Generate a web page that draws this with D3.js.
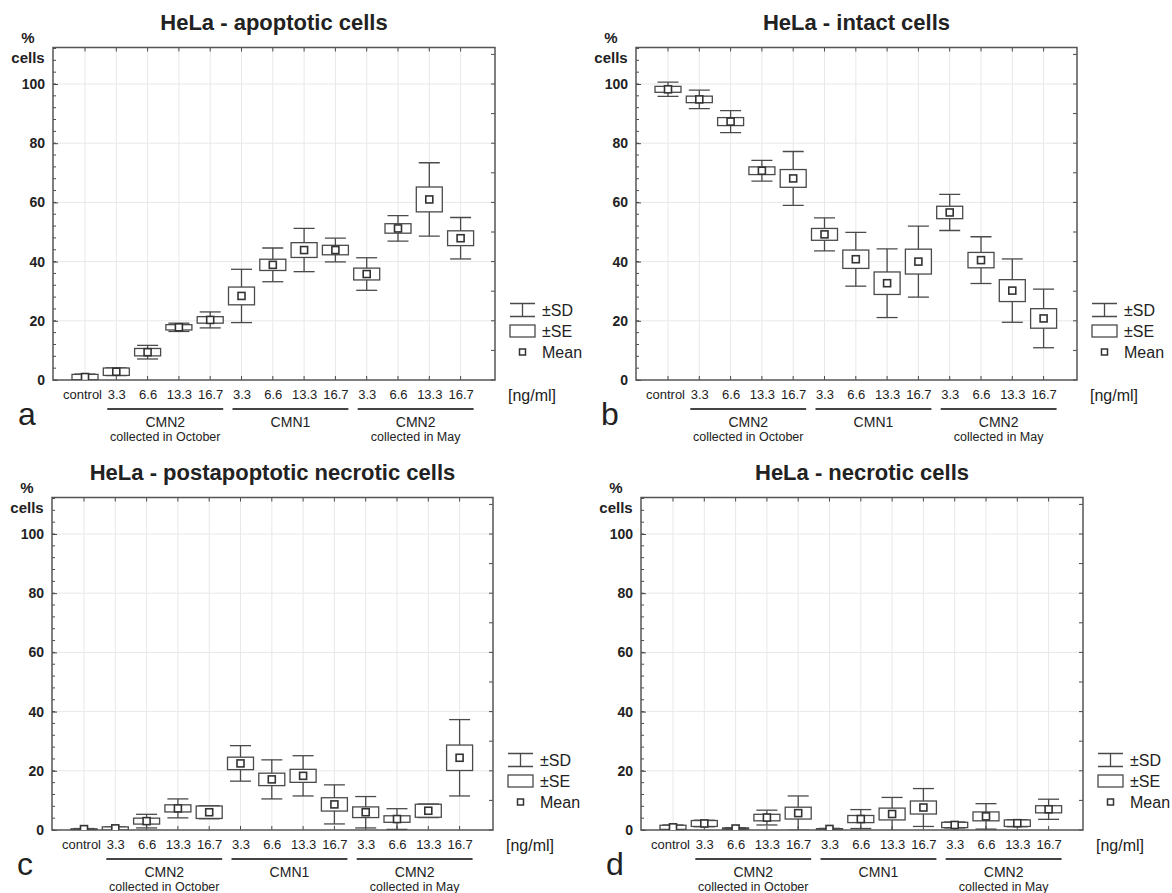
<!DOCTYPE html>
<html>
<head>
<meta charset="utf-8">
<script src="https://cdnjs.cloudflare.com/ajax/libs/d3/7.8.5/d3.min.js"></script>
<style>
  body { margin: 0; background: #fff; }
  svg { display: block; font-family: 'Liberation Sans', Arial, sans-serif; }
</style>
</head>
<body>
<script>
// categories along the x axis (concentration, ng/ml)
var categories = ['control', '3.3', '6.6', '13.3', '16.7', '3.3', '6.6', '13.3', '16.7', '3.3', '6.6', '13.3', '16.7'];
var groupNames = ['CMN2', 'CMN1', 'CMN2'];
var groupNotes = ['collected in October', '', 'collected in May'];
var groupFirst = [1, 5, 9];
var groupLast = [4, 8, 12];
var yTicks = [0, 20, 40, 60, 80, 100];

// a - apoptotic
var apoptoticMean = [1.0, 2.8, 9.4, 17.8, 20.3, 28.4, 38.9, 43.9, 43.9, 35.8, 51.2, 61.0, 47.9];
var apoptoticSE = [0.9, 1.25, 1.25, 0.9, 1.1, 3.0, 1.9, 2.5, 1.6, 2.0, 1.6, 4.2, 2.5];
var apoptoticSD = [1.0, 1.3, 2.3, 1.4, 2.7, 9.0, 5.7, 7.3, 4.0, 5.5, 4.3, 12.4, 7.0];

// b - intact
var intactMean = [98.2, 94.8, 87.3, 70.7, 68.1, 49.2, 40.8, 32.7, 40.0, 56.6, 40.5, 30.2, 20.8];
var intactSE = [1.0, 1.1, 1.35, 1.3, 3.0, 2.0, 3.1, 3.8, 4.2, 2.1, 2.6, 3.7, 3.3];
var intactSD = [2.4, 3.1, 3.7, 3.5, 9.1, 5.6, 9.1, 11.6, 12.0, 6.1, 7.9, 10.7, 9.9];

// c - postapoptotic necrotic
var postMean = [0.3, 0.55, 3.0, 7.3, 6.0, 22.5, 17.1, 18.3, 8.65, 6.0, 3.7, 6.5, 24.4];
var postSE = [0.1, 0.5, 1.0, 1.2, 2.1, 2.1, 2.1, 2.2, 2.25, 1.8, 1.1, 2.2, 4.3];
var postSD = [0.2, 0.5, 2.3, 3.2, 2.2, 6.0, 6.6, 6.8, 6.6, 5.3, 3.5, 2.3, 12.9];

// d - necrotic
var necroticMean = [0.9, 2.2, 0.5, 4.2, 5.7, 0.35, 3.7, 5.4, 7.6, 1.7, 4.6, 2.3, 7.0];
var necroticSE = [0.7, 1.0, 0.2, 1.1, 2.0, 0.1, 1.2, 2.0, 2.2, 0.9, 1.5, 1.1, 1.2];
var necroticSD = [0.8, 1.1, 0.3, 2.5, 5.8, 0.2, 3.2, 5.6, 6.4, 1.0, 4.3, 1.2, 3.4];

var panels = [
  {letter: 'a', title: 'HeLa - apoptotic cells', mean: apoptoticMean, se: apoptoticSE, sd: apoptoticSD, left: 53, bottom: 380, width: 442},
  {letter: 'b', title: 'HeLa - intact cells', mean: intactMean, se: intactSE, sd: intactSD, left: 636, bottom: 380, width: 441},
  {letter: 'c', title: 'HeLa - postapoptotic necrotic cells', mean: postMean, se: postSE, sd: postSD, left: 52, bottom: 830, width: 441},
  {letter: 'd', title: 'HeLa - necrotic cells', mean: necroticMean, se: necroticSE, sd: necroticSD, left: 641, bottom: 830, width: 442}
];

var plotHeight = 332.5;
var ink = '#222';
var lineColor = '#4a4a4a';
var gridColor = '#e8e8e8';

var svg = d3.select('body').append('svg')
    .attr('width', 1172)
    .attr('height', 893);

svg.append('rect').attr('width', 1172).attr('height', 893).attr('fill', '#fff');

function drawPanel(p, k) {
  var g = svg.append('g')
      .attr('transform', 'translate(' + p.left + ',' + (p.bottom - plotHeight) + ')');

  var y = d3.scaleLinear().domain([0, plotHeight / 2.96]).range([plotHeight, 0]);
  var x = d3.scalePoint().domain(d3.range(categories.length)).range([32, 32 + 12 * 31.3]);

  // grid
  g.append('g').selectAll('line').data(yTicks.slice(1)).join('line')
      .attr('x1', 0).attr('x2', p.width)
      .attr('y1', function (d) { return y(d); }).attr('y2', function (d) { return y(d); })
      .attr('stroke', gridColor);
  g.append('g').selectAll('line').data(d3.range(categories.length)).join('line')
      .attr('x1', function (d) { return x(d); }).attr('x2', function (d) { return x(d); })
      .attr('y1', 0).attr('y2', plotHeight)
      .attr('stroke', gridColor);

  // minor ticks
  g.append('g').selectAll('line').data(d3.range(0, 113, 4)).join('line')
      .attr('x1', 0).attr('x2', 3)
      .attr('y1', function (d) { return y(d); }).attr('y2', function (d) { return y(d); })
      .attr('stroke', lineColor);
  g.append('g').selectAll('line').data(d3.range(0, 113, 10)).join('line')
      .attr('x1', p.width).attr('x2', p.width - 4)
      .attr('y1', function (d) { return y(d); }).attr('y2', function (d) { return y(d); })
      .attr('stroke', lineColor);
  g.append('g').selectAll('line').data(d3.range(categories.length)).join('line')
      .attr('x1', function (d) { return x(d); }).attr('x2', function (d) { return x(d); })
      .attr('y1', 0).attr('y2', 4)
      .attr('stroke', lineColor);
  g.append('g').selectAll('line').data(d3.range(categories.length)).join('line')
      .attr('x1', function (d) { return x(d); }).attr('x2', function (d) { return x(d); })
      .attr('y1', plotHeight).attr('y2', plotHeight - 4)
      .attr('stroke', lineColor);

  // axes labels
  var yAxis = g.append('g')
      .call(d3.axisLeft(y).tickValues(yTicks).tickSize(5).tickPadding(3));
  yAxis.select('.domain').remove();
  yAxis.selectAll('line').attr('x2', 5).attr('stroke', lineColor);
  yAxis.selectAll('text')
      .attr('fill', ink)
      .style('font-size', '14px')
      .style('font-weight', 'bold')
      .style('font-family', "'Liberation Sans', Arial, sans-serif");

  var xAxis = g.append('g')
      .attr('transform', 'translate(0,' + plotHeight + ')')
      .call(d3.axisBottom(x).tickFormat(function (i) { return categories[i]; }).tickSize(0).tickPadding(10));
  xAxis.select('.domain').remove();
  xAxis.selectAll('text')
      .attr('fill', ink)
      .attr('dx', function (i) { return i === 0 ? -3 : 0; })
      .style('font-size', '13px')
      .style('font-family', "'Liberation Sans', Arial, sans-serif");

  // frame
  g.append('rect')
      .attr('width', p.width).attr('height', plotHeight)
      .attr('fill', 'none')
      .attr('stroke', '#555')
      .attr('stroke-width', 1.5);

  // boxes
  var clipId = 'clip' + k;
  g.append('clipPath').attr('id', clipId)
    .append('rect').attr('width', p.width).attr('height', plotHeight);

  var marks = g.append('g').attr('clip-path', 'url(#' + clipId + ')')
    .selectAll('g').data(d3.range(categories.length)).join('g')
      .attr('transform', function (i) { return 'translate(' + x(i) + ',0)'; });

  marks.append('line')
      .attr('y1', function (i) { return y(p.mean[i] + p.sd[i]); })
      .attr('y2', function (i) { return y(p.mean[i] - p.sd[i]); })
      .attr('stroke', lineColor).attr('stroke-width', 1.3);
  marks.append('line')
      .attr('x1', -10.5).attr('x2', 10.5)
      .attr('y1', function (i) { return y(p.mean[i] + p.sd[i]); })
      .attr('y2', function (i) { return y(p.mean[i] + p.sd[i]); })
      .attr('stroke', lineColor).attr('stroke-width', 1.3);
  marks.append('line')
      .attr('x1', -10.5).attr('x2', 10.5)
      .attr('y1', function (i) { return y(p.mean[i] - p.sd[i]); })
      .attr('y2', function (i) { return y(p.mean[i] - p.sd[i]); })
      .attr('stroke', lineColor).attr('stroke-width', 1.3);
  marks.append('rect')
      .attr('x', -13).attr('width', 26)
      .attr('y', function (i) { return y(p.mean[i] + p.se[i]); })
      .attr('height', function (i) { return y(p.mean[i] - p.se[i]) - y(p.mean[i] + p.se[i]); })
      .attr('fill', '#fff')
      .attr('stroke', lineColor).attr('stroke-width', 1.3);
  marks.append('rect')
      .attr('x', -3.5).attr('width', 7).attr('height', 7)
      .attr('y', function (i) { return y(p.mean[i]) - 3.5; })
      .attr('fill', '#fff')
      .attr('stroke', '#333').attr('stroke-width', 1.6);

  // group lines under categories
  var groups = g.append('g').attr('transform', 'translate(0,' + plotHeight + ')')
    .selectAll('g').data(d3.range(groupNames.length)).join('g');
  groups.append('line')
      .attr('x1', function (j) { return x(groupFirst[j]) - 9; })
      .attr('x2', function (j) { return x(groupLast[j]) + 13; })
      .attr('y1', 29).attr('y2', 29)
      .attr('stroke', '#444').attr('stroke-width', 2);
  groups.append('text')
      .attr('x', function (j) { return (x(groupFirst[j]) + x(groupLast[j])) / 2 + 2; })
      .attr('y', 47)
      .attr('text-anchor', 'middle')
      .attr('fill', ink)
      .style('font-size', '14px')
      .text(function (j) { return groupNames[j]; });
  groups.append('text')
      .attr('x', function (j) { return (x(groupFirst[j]) + x(groupLast[j])) / 2 + 2; })
      .attr('y', 61)
      .attr('text-anchor', 'middle')
      .attr('fill', ink)
      .style('font-size', '12.5px')
      .text(function (j) { return groupNotes[j]; });

  // unit
  g.append('text')
      .attr('x', p.width + 13).attr('y', plotHeight + 21)
      .attr('fill', ink)
      .style('font-size', '16px')
      .text('[ng/ml]');

  // legend
  var lg = g.append('g').attr('transform', 'translate(' + (p.width + 15) + ',' + plotHeight + ')');
  lg.append('path')
      .attr('d', 'M0,-76.5H25M12.5,-76.5V-63.5M0,-63.5H25')
      .attr('fill', 'none').attr('stroke', lineColor).attr('stroke-width', 1.3);
  lg.append('rect')
      .attr('x', 0).attr('y', -55).attr('width', 25).attr('height', 12)
      .attr('fill', '#fff').attr('stroke', lineColor).attr('stroke-width', 1.3);
  lg.append('rect')
      .attr('x', 9.5).attr('y', -31).attr('width', 6).attr('height', 6)
      .attr('fill', '#fff').attr('stroke', '#333').attr('stroke-width', 1.5);
  lg.selectAll('text').data(['±SD', '±SE', 'Mean']).join('text')
      .attr('x', 32)
      .attr('y', function (d, i) { return -64.5 + i * 21; })
      .attr('fill', ink)
      .style('font-size', '16px')
      .text(function (d) { return d; });

  // title and y label
  g.append('text')
      .attr('x', p.width / 2).attr('y', -17.5)
      .attr('text-anchor', 'middle')
      .attr('fill', ink)
      .style('font-size', '22px')
      .style('font-weight', 'bold')
      .text(p.title);
  g.append('text')
      .attr('x', -25).attr('y', -4.5)
      .attr('text-anchor', 'middle')
      .attr('fill', ink)
      .style('font-size', '15px')
      .style('font-weight', 'bold')
      .text('%');
  g.append('text')
      .attr('x', -25).attr('y', 15.5)
      .attr('text-anchor', 'middle')
      .attr('fill', ink)
      .style('font-size', '15px')
      .style('font-weight', 'bold')
      .text('cells');

  // panel letter
  g.append('text')
      .attr('x', -35).attr('y', plotHeight + 45)
      .attr('fill', ink)
      .style('font-size', '32px')
      .text(p.letter);
}

panels.forEach(drawPanel);
</script>
</body>
</html>
